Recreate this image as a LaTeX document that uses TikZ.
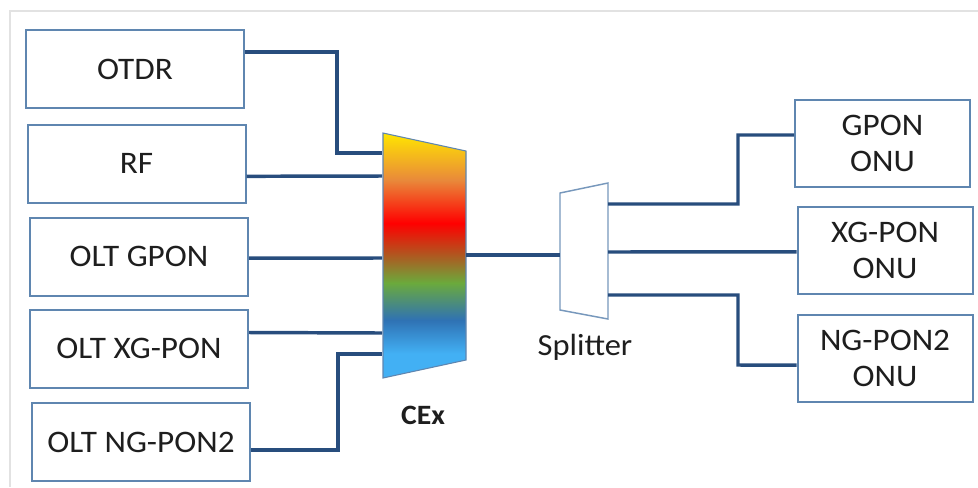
\documentclass[tikz,border=0pt]{standalone}
\usepackage{fontspec}
\setmainfont{Carlito}[FakeStretch=1.06]
\usetikzlibrary{positioning,calc}
\definecolor{FibreBlue}{HTML}{284D7D}
\definecolor{BoxBlue}{HTML}{5F86B0}
\definecolor{FrameGray}{HTML}{E2E2E2}
\definecolor{TextDark}{HTML}{1E1E1E}
\definecolor{CexYellow}{HTML}{FFE600}
\definecolor{CexOrange}{HTML}{E9893A}
\definecolor{CexRed}{HTML}{FF0000}
\definecolor{CexBrown}{HTML}{B4521E}
\definecolor{CexGreen}{HTML}{6BAA3C}
\definecolor{CexBlue}{HTML}{2F72B4}
\definecolor{CexSky}{HTML}{42B0F4}
\pgfdeclareverticalshading{cexshade}{100bp}{color(0bp)=(CexSky); color(25bp)=(CexSky); color(30bp)=(CexSky); color(36.8bp)=(CexBlue); color(44.4bp)=(CexGreen); color(50.5bp)=(CexBrown); color(56.6bp)=(CexRed); color(65.4bp)=(CexOrange); color(75bp)=(CexYellow); color(100bp)=(CexYellow)}

\begin{document}
\begin{tikzpicture}[x=0.75pt, y=-0.75pt,
    box/.style={draw=BoxBlue, line width=1.5pt, fill=white, text=TextDark, font=\fontsize{23.5}{27}\selectfont, align=center, inner sep=0pt},
    oltbox/.style={box, minimum width=163.5pt, minimum height=58.5pt},
    onubox/.style={box, minimum width=131.25pt, minimum height=65.25pt},
    fibre/.style={draw=FibreBlue, line width=2.6pt},
    tag/.style={text=TextDark, font=\fontsize{23}{27}\selectfont}
  ]
    \useasboundingbox (0,0) rectangle (978,487);
    \draw[FrameGray, line width=0.8pt] (10,487) -- (10,11) -- (978,11);

    % head end
    \node[oltbox] (otdr) at (135,69) {OTDR};
    \node[oltbox] (rf) at (136.5,163.5) {RF};
    \node[oltbox] (gpon) at (139,256.5) {OLT GPON};
    \node[oltbox] (xgpon) at (139,348.5) {OLT XG-PON};
    \node[oltbox] (ngpon) at (141,442) {OLT NG-PON2};

    % coexistence element
    \shadedraw[shading=cexshade, draw=BoxBlue, line width=0.8pt] (383,133) -- (466,151) -- (466,360) -- (383,378) -- cycle;
    \coordinate (cexin1) at (382,153);
    \coordinate (cexin2) at (382,176);
    \coordinate (cexin3) at (382,258);
    \coordinate (cexin4) at (382,333);
    \coordinate (cexin5) at (382,354);
    \coordinate (cexout) at (466,255);
    \node[tag, font=\fontsize{21}{25}\selectfont\bfseries] (cexlabel) at (423,415) {CEx};

    % splitter
    \draw[draw=BoxBlue!85, line width=1.1pt, fill=white] (560,193) -- (608,183) -- (608,319) -- (560,310) -- cycle;
    \coordinate (splin) at (560,255);
    \coordinate (splout1) at (608,204);
    \coordinate (splout2) at (608,252);
    \coordinate (splout3) at (608,295);
    \node[tag] (spllabel) at (585,347) {Splitter};

    % user end
    \node[onubox] (gonu) at (882.5,143) {GPON\\ONU};
    \node[onubox] (xgonu) at (885,250) {XG-PON\\ONU};
    \node[onubox] (ngonu) at (885,358) {NG-PON2\\ONU};

    \draw[fibre] ($(otdr.north east)!.29!(otdr.south east)$) -| (337,153) -- (cexin1);
    \draw[fibre] ($(rf.north east)!.66!(rf.south east)$) -- (cexin2);
    \draw[fibre] ($(gpon.north east)!.52!(gpon.south east)$) -- (cexin3);
    \draw[fibre] ($(xgpon.north east)!.30!(xgpon.south east)$) -- (cexin4);
    \draw[fibre] ($(ngpon.north east)!.60!(ngpon.south east)$) -| (338,354) -- (cexin5);
    \draw[fibre] (cexout) -- (splin);
    \draw[fibre] (splout1) -| (738,135) -- ($(gonu.north west)!.41!(gonu.south west)$);
    \draw[fibre] (splout2) -- ($(xgonu.north west)!.52!(xgonu.south west)$);
    \draw[fibre] (splout3) -| (738,365) -- ($(ngonu.north west)!.58!(ngonu.south west)$);
  \end{tikzpicture}
\end{document}
